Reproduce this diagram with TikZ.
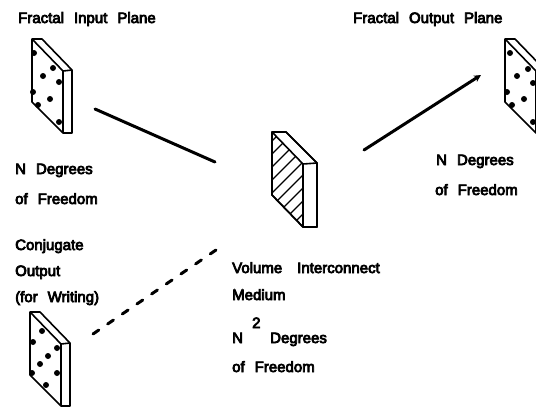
\documentclass[tikz,border=0pt]{standalone}
\usepackage{fontspec}
\setmainfont[FakeBold=5,WordSpace=2.4]{Liberation Sans}
\usetikzlibrary{arrows.meta}
\tikzset{
  x=1pt,y=-1pt,
  lbl/.style={anchor=base west,inner sep=0pt,font=\fontsize{15}{17}\selectfont},
  plate/.style={draw=black,line width=1.6pt,line join=round,fill=white},
  edge/.style={draw=black,line width=1.6pt},
  ray/.style={draw=black,line width=3pt,line cap=round},
  dot/.style={circle,fill=black,inner sep=0pt,minimum size=6pt},
}
\newcommand{\plateat}[3]{%
  \begin{scope}[shift={(#1,#2)}]
    \coordinate (#3) at (20,47);
    \path[plate] (0,0) -- (10,0) -- (40,31) -- (40,94) -- (31,94) -- (0,63) -- cycle;
    \path[edge] (0,0) -- (31,32) -- (40,31);
    \path[edge] (31,32) -- (31,94);
  \end{scope}}
\begin{document}
\begin{tikzpicture}
\useasboundingbox (0,0) rectangle (536,407);
\clip (0,0) rectangle (536,407);
% plates
\plateat{32}{39}{inplane}
\plateat{505}{39}{outplane}
\plateat{30}{312}{conjplane}
% dots
\foreach \p/\q in {34/53,53/68,43/76,59/82,33/92,50/99,38/105,59/122,
  510/53,528/69,517/76,533/83,507/92,524/99,512/105,533/122,
  42/331,33/342,57/348,48/356,40/364,32/373,57/373,46/385}
  \node[dot] at (\p,\q) {};
% central hatched plate
\begin{scope}
  \path[plate] (272,132) -- (286,132) -- (317,163) -- (317,227) -- (303,227) -- (272,195) -- cycle;
  \clip (272,132) -- (303,164) -- (303,227) -- (272,195) -- cycle;
  \foreach \k in {0,13,...,117}
    \draw[line width=1.3pt] (262,{151+\k}) -- (312,{101+\k});
\end{scope}
\draw[edge] (272,132) -- (303,164) -- (317,163);
\draw[edge] (303,164) -- (303,227);
\draw[edge,line join=round] (272,132) -- (286,132) -- (317,163) -- (317,227) -- (303,227) -- (272,195) -- cycle;
% connector ends
\coordinate (a1) at (95,109);
\coordinate (a2) at (215,162);
\coordinate (b1) at (364,150);
\coordinate (b2) at (481,75);
\coordinate (c1) at (93,334);
\coordinate (c2) at (216,250);
\draw[ray] (a1) -- (a2);
\draw[ray,-{Stealth[length=7pt,width=7pt]}] (b1) -- (b2);
\draw[ray,dash pattern=on 7pt off 10.75pt] (c1) -- (c2);
% labels
\node[lbl] (t1) at (18,23) {Fractal Input Plane};
\node[lbl] (t2) at (353,23) {Fractal Output Plane};
\node[lbl] (t3) at (15,174) {N Degrees};
\node[lbl] (t4) at (15,204) {of Freedom};
\node[lbl] (t5) at (436,165) {N Degrees};
\node[lbl] (t6) at (435,195) {of Freedom};
\node[lbl] (t7) at (15,250) {Conjugate};
\node[lbl] (t8) at (15,276) {Output};
\node[lbl] (t9) at (15,302) {(for Writing)};
\node[lbl] (t10) at (232,273) {Volume\hspace{5pt} Interconnect};
\node[lbl] (t11) at (232,300) {Medium};
\node[lbl] (t12) at (232,343) {N};
\node[lbl] (t13) at (252,328) {2};
\node[lbl] (t14) at (270,343) {Degrees};
\node[lbl] (t15) at (232,372) {of Freedom};
\end{tikzpicture}
\end{document}
